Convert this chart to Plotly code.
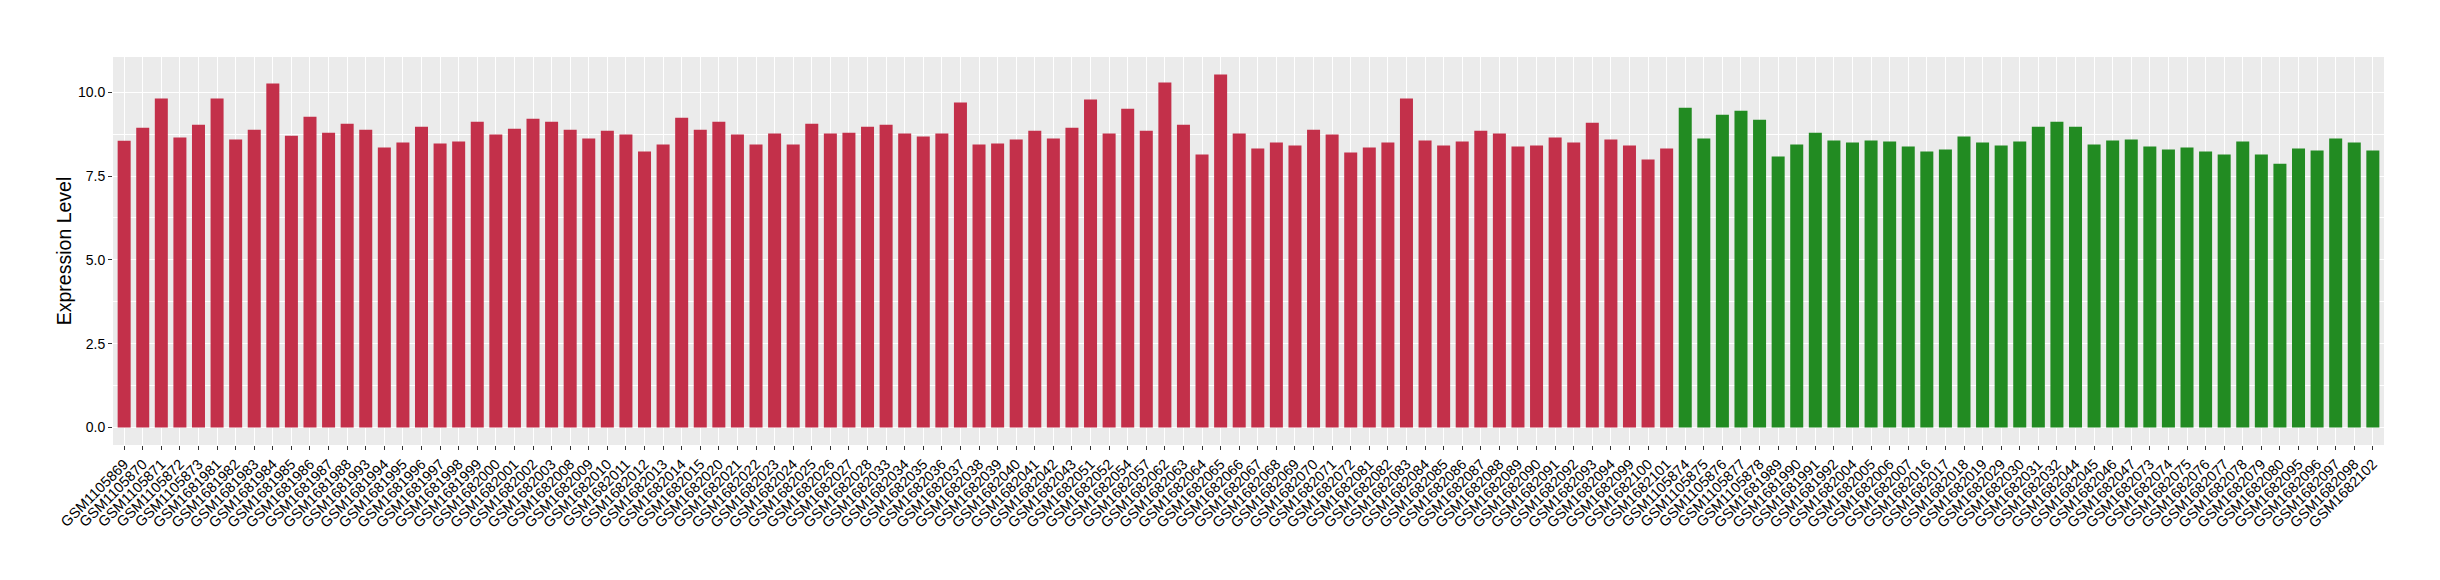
import plotly.graph_objects as go

# --- data -------------------------------------------------------------
red_samples = [
    "GSM1105869", "GSM1105870", "GSM1105871", "GSM1105872", "GSM1105873",
    "GSM1681981", "GSM1681982", "GSM1681983", "GSM1681984", "GSM1681985",
    "GSM1681986", "GSM1681987", "GSM1681988", "GSM1681993", "GSM1681994",
    "GSM1681995", "GSM1681996", "GSM1681997", "GSM1681998", "GSM1681999",
    "GSM1682000", "GSM1682001", "GSM1682002", "GSM1682003", "GSM1682008",
    "GSM1682009", "GSM1682010", "GSM1682011", "GSM1682012", "GSM1682013",
    "GSM1682014", "GSM1682015", "GSM1682020", "GSM1682021", "GSM1682022",
    "GSM1682023", "GSM1682024", "GSM1682025", "GSM1682026", "GSM1682027",
    "GSM1682028", "GSM1682033", "GSM1682034", "GSM1682035", "GSM1682036",
    "GSM1682037", "GSM1682038", "GSM1682039", "GSM1682040", "GSM1682041",
    "GSM1682042", "GSM1682043", "GSM1682051", "GSM1682052", "GSM1682054",
    "GSM1682057", "GSM1682062", "GSM1682063", "GSM1682064", "GSM1682065",
    "GSM1682066", "GSM1682067", "GSM1682068", "GSM1682069", "GSM1682070",
    "GSM1682071", "GSM1682072", "GSM1682081", "GSM1682082", "GSM1682083",
    "GSM1682084", "GSM1682085", "GSM1682086", "GSM1682087", "GSM1682088",
    "GSM1682089", "GSM1682090", "GSM1682091", "GSM1682092", "GSM1682093",
    "GSM1682094", "GSM1682099", "GSM1682100", "GSM1682101",
]
red_values = [
    8.55, 8.94, 9.81, 8.65, 9.03, 9.81, 8.59, 8.88, 10.26, 8.70,
    9.27, 8.79, 9.06, 8.88, 8.35, 8.50, 8.97, 8.47, 8.53, 9.12,
    8.74, 8.91, 9.21, 9.12, 8.88, 8.62, 8.85, 8.74, 8.23, 8.44,
    9.24, 8.88, 9.12, 8.74, 8.44, 8.77, 8.44, 9.06, 8.77, 8.79,
    8.97, 9.03, 8.77, 8.68, 8.77, 9.69, 8.44, 8.47, 8.59, 8.85,
    8.62, 8.94, 9.78, 8.77, 9.51, 8.85, 10.29, 9.03, 8.14, 10.53,
    8.77, 8.32, 8.50, 8.41, 8.88, 8.74, 8.20, 8.35, 8.50, 9.81,
    8.56, 8.41, 8.53, 8.85, 8.77, 8.38, 8.41, 8.65, 8.50, 9.09,
    8.59, 8.41, 7.99, 8.32,
]

green_samples = [
    "GSM1105874", "GSM1105875", "GSM1105876", "GSM1105877", "GSM1105878",
    "GSM1681989", "GSM1681990", "GSM1681991", "GSM1681992", "GSM1682004",
    "GSM1682005", "GSM1682006", "GSM1682007", "GSM1682016", "GSM1682017",
    "GSM1682018", "GSM1682019", "GSM1682029", "GSM1682030", "GSM1682031",
    "GSM1682032", "GSM1682044", "GSM1682045", "GSM1682046", "GSM1682047",
    "GSM1682073", "GSM1682074", "GSM1682075", "GSM1682076", "GSM1682077",
    "GSM1682078", "GSM1682079", "GSM1682080", "GSM1682095", "GSM1682096",
    "GSM1682097", "GSM1682098", "GSM1682102",
]
green_values = [
    9.54, 8.62, 9.33, 9.45, 9.18, 8.08, 8.44, 8.79, 8.56, 8.50,
    8.56, 8.53, 8.38, 8.23, 8.29, 8.68, 8.50, 8.41, 8.53, 8.97,
    9.12, 8.97, 8.44, 8.56, 8.59, 8.38, 8.29, 8.35, 8.23, 8.14,
    8.53, 8.14, 7.87, 8.32, 8.26, 8.62, 8.50, 8.26,
]

y_tick_vals = [0.0, 2.5, 5.0, 7.5, 10.0]
y_tick_text = ["0.0", "2.5", "5.0", "7.5", "10.0"]

RED = "#C3304A"
GREEN = "#228B22"

samples = red_samples + green_samples
values = red_values + green_values
colors = [RED] * len(red_samples) + [GREEN] * len(green_samples)

FONT = "Liberation Sans, Arial, Helvetica, sans-serif"

fig = go.Figure(
    go.Bar(
        x=samples,
        y=values,
        marker=dict(color=colors, line=dict(width=0)),
        showlegend=False,
        hoverinfo="x+y",
    )
)

fig.update_layout(
    width=2440,
    height=580,
    autosize=False,
    paper_bgcolor="white",
    plot_bgcolor="#EBEBEB",
    bargap=0.3,
    margin=dict(l=113, r=56, t=57, b=135, pad=0),
    font=dict(family=FONT, color="black"),
)

fig.update_xaxes(
    type="category",
    categoryorder="array",
    categoryarray=samples,
    range=[-0.6, len(samples) - 1 + 0.6],
    automargin=False,
    showgrid=True,
    gridcolor="white",
    gridwidth=1.1,
    tickangle=-45,
    ticks="outside",
    ticklen=4,
    tickwidth=1,
    tickcolor="#333333",
    tickfont=dict(size=14.5, color="black", family=FONT),
    showline=False,
    zeroline=False,
)

fig.update_yaxes(
    range=[-0.52, 11.05],
    automargin=True,
    tickvals=y_tick_vals,
    ticktext=y_tick_text,
    showgrid=True,
    gridcolor="white",
    gridwidth=1.1,
    minor=dict(showgrid=True, gridcolor="white", gridwidth=0.55,
               tickvals=[1.25, 3.75, 6.25, 8.75]),
    ticks="outside",
    ticklen=4,
    tickwidth=1,
    tickcolor="#333333",
    tickfont=dict(size=14, color="black", family=FONT),
    zeroline=False,
    showline=False,
    title=dict(text="Expression Level", font=dict(size=19.5, color="black", family=FONT),
               standoff=1),
)

fig.write_html("out.html", config={"displayModeBar": False},
               post_script="document.body.style.margin='0';")
